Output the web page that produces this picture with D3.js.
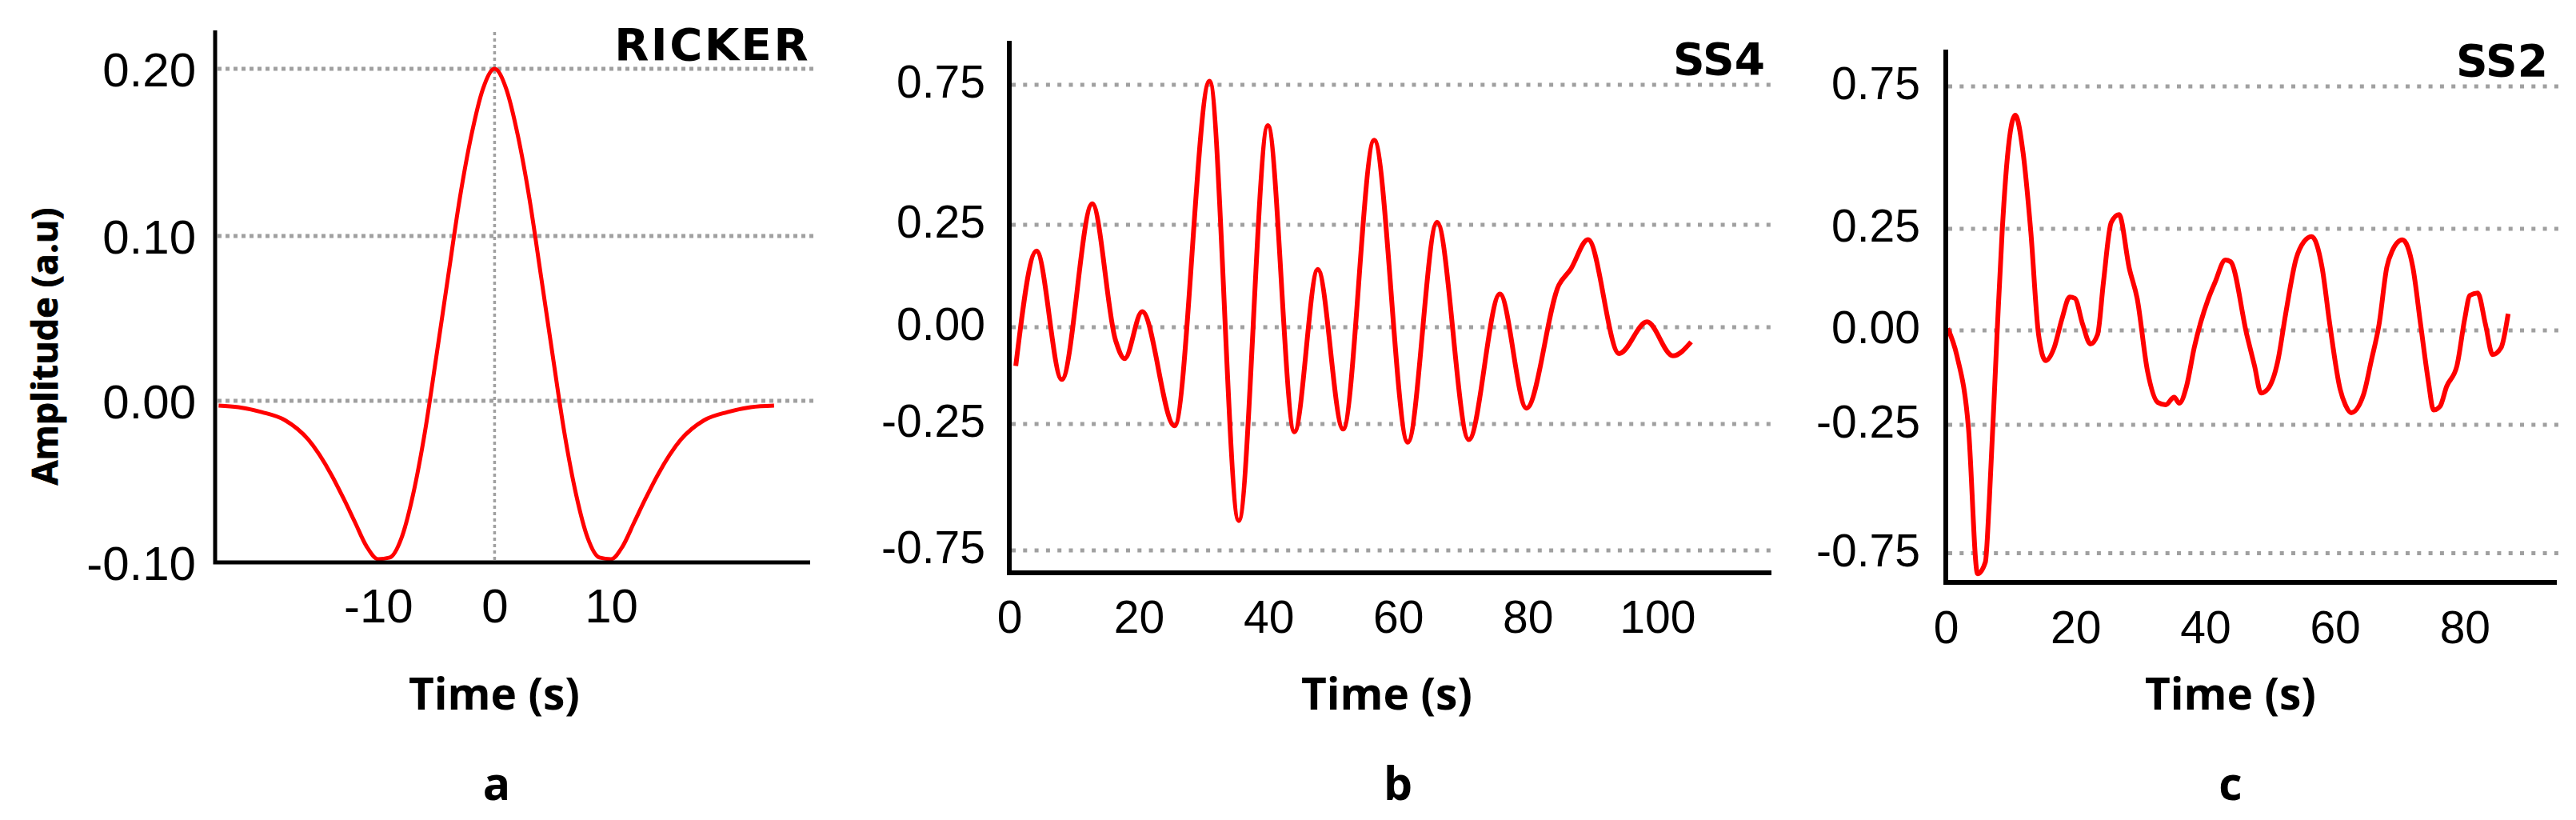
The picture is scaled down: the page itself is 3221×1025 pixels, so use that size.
<!DOCTYPE html>
<html>
<head>
<meta charset="utf-8">
<script src="https://cdn.jsdelivr.net/npm/d3@7"></script>
<style>
  body { margin: 0; background: #fff; }
  .tick text { font-family: "Liberation Sans", Arial, sans-serif; fill: #000; }
  .lbl { font-family: "Open Sans", sans-serif; font-weight: bold; fill: #000; }
  .ttl { font-family: "DejaVu Sans", sans-serif; font-weight: bold; fill: #000; }
</style>
</head>
<body>
<script>
// ---- data ----
// a: Ricker wavelet
var rickerTime = [-23.7, -22, -20, -18, -16, -14, -13, -12, -11, -10, -9, -8, -7, -6, -5, -4, -3, -2, -1, 0,
                  1, 2, 3, 4, 5, 6, 7, 8, 9, 10, 11, 12, 13, 14, 16, 18, 20, 22, 24];
var rickerAmp = [-0.003, -0.004, -0.007, -0.012, -0.024, -0.046, -0.060, -0.075, -0.090, -0.098, -0.097, -0.085, -0.058, -0.020, 0.027, 0.075, 0.122, 0.160, 0.188, 0.200,
                 0.188, 0.160, 0.122, 0.075, 0.027, -0.020, -0.058, -0.085, -0.097, -0.098, -0.090, -0.075, -0.060, -0.046, -0.024, -0.012, -0.007, -0.004, -0.003];

// b: SS4
var ss4Time = [1.0, 4.2, 8.1, 12.8, 16.4, 17.8, 20.5, 25.5, 30.9, 35.4, 39.9, 44.0, 47.6, 51.5, 56.3,
               61.5, 66.0, 70.9, 75.7, 79.8, 84.8, 86.6, 89.3, 94.1, 98.4, 102.4, 105.2];
var ss4Amp = [-0.10, 0.186, -0.135, 0.325, -0.034, -0.081, 0.038, -0.257, 0.763, -0.632, 0.604, -0.281, 0.141, -0.27, 0.552,
              -0.322, 0.259, -0.312, 0.081, -0.209, 0.103, 0.141, 0.214, -0.068, 0.013, -0.074, -0.038];

// c: SS2
var ss2Time = [0.3, 1.7, 3.5, 4.9, 6.1, 6.7, 7.9, 8.7, 9.5, 10.7, 11.9, 13.1, 14.3, 15.4, 16.7, 17.9, 19.1, 19.9,
               21.1, 22.3, 23.4, 24.3, 25.5, 26.7, 28.3, 29.5, 31.1, 32.7, 33.9, 35.2, 36.0, 37.1, 38.3, 40.5, 41.5,
               43.1, 43.9, 46.4, 47.6, 48.6, 49.6, 51.2, 52.4, 54.0, 55.2, 56.4, 58.0, 59.2, 60.8, 61.6, 62.5, 64.4,
               65.6, 66.8, 68.0, 68.8, 70.4, 72.0, 73.2, 74.4, 75.2, 76.2, 77.2, 78.8, 80.0, 80.8, 82.0, 83.2, 84.3,
               85.6, 86.7];
var ss2Amp = [0.005, -0.066, -0.264, -0.83, -0.785, -0.55, -0.011, 0.246, 0.502, 0.649, 0.52, 0.244, -0.011, -0.08, -0.046, 0.028, 0.082, 0.079,
              0.015, -0.036, -0.011, 0.118, 0.272, 0.30, 0.152, 0.079, -0.108, -0.191, -0.197, -0.177, -0.193, -0.149, -0.046, 0.079, 0.118,
              0.173, 0.169, -0.011, -0.094, -0.166, -0.156, -0.08, 0.041, 0.176, 0.218, 0.231, 0.156, 0.015, -0.156, -0.197, -0.218, -0.17,
              -0.08, 0.015, 0.156, 0.195, 0.223, 0.156, 0.015, -0.135, -0.211, -0.201, -0.149, -0.094, 0.028, 0.086, 0.092, 0.015, -0.064,
              -0.046, 0.041];

// tick labels
var rickerXTicks = [-10, 0, 10];
var rickerYTicks = [-0.10, 0.00, 0.10, 0.20];
var rickerGrid = [0.00, 0.10, 0.20];
var ssXTicks4 = [0, 20, 40, 60, 80, 100];
var ssXTicks2 = [0, 20, 40, 60, 80];
var ssYTicks = [-0.75, -0.25, 0.00, 0.25, 0.75];
var panelTitles = ["RICKER", "SS4", "SS2"];
var panelLetters = ["a", "b", "c"];

// ---- layout ----
var width = 3221, height = 1025;
var svg = d3.select('body').append('svg')
  .attr('width', width)
  .attr('height', height);
svg.append('rect').attr('width', width).attr('height', height).attr('fill', '#fff');

// plain hyphen for negatives, like the original figure
var fmt2 = d => d3.format('.2f')(d).replace('\u2212', '-');
var fmt0 = d => d3.format('d')(d).replace('\u2212', '-');

var panels = [
  {time: rickerTime, amp: rickerAmp, xTicks: rickerXTicks, yTicks: rickerYTicks, grid: rickerGrid,
   xDomain: [-24, 27.1], xRange: [269, 1013], yRange: [703, 501, 295, 86], top: 38, axisY: 703,
   yPad: 24, xPad: 32, axisW: 5, lineW: 5, dash: '5 5', titleY: 75, titleX: 1013, titleSize: 56, spacing: 2.5,
   tickSize: 60, midX: 618, letterX: 621},
  {time: ss4Time, amp: ss4Amp, xTicks: ssXTicks4, yTicks: ssYTicks, grid: ssYTicks,
   xDomain: [0, 117.6], xRange: [1262, 2215], yRange: [688, 530, 409, 281, 106], top: 51, axisY: 716,
   yPad: 30, xPad: 35, axisW: 6, lineW: 6, dash: '5 9.3', titleY: 93, titleX: 2207, titleSize: 55, spacing: 0,
   tickSize: 57, midX: 1734, letterX: 1748},
  {time: ss2Time, amp: ss2Amp, xTicks: ssXTicks2, yTicks: ssYTicks, grid: ssYTicks,
   xDomain: [0, 94.2], xRange: [2433, 3197], yRange: [691.5, 531, 413, 286, 108], top: 62, axisY: 728,
   yPad: 32, xPad: 36, axisW: 6, lineW: 6, dash: '5 9.3', titleY: 95, titleX: 3186, titleSize: 55, spacing: 0,
   tickSize: 57, midX: 2789, letterX: 2789}
];

panels.forEach(function(p, i) {
  var g = svg.append('g');
  var x = d3.scaleLinear().domain(p.xDomain).range(p.xRange);
  var y = d3.scaleLinear().domain(p.yTicks).range(p.yRange);
  var x0 = p.xRange[0], x1 = p.xRange[1];

  // dotted gridlines
  g.selectAll('.grid').data(p.grid).enter().append('line')
    .attr('x1', x0 + 3).attr('x2', x1 + 4)
    .attr('y1', d => y(d)).attr('y2', d => y(d))
    .attr('stroke', '#a0a0a0').attr('stroke-width', 5)
    .attr('stroke-dasharray', p.dash);

  if (i === 0) {
    g.append('line')
      .attr('x1', x(0)).attr('x2', x(0))
      .attr('y1', 40).attr('y2', p.axisY)
      .attr('stroke', '#a0a0a0').attr('stroke-width', 3.5)
      .attr('stroke-dasharray', '4 4');
  }

  // the signal
  var line = d3.line()
    .x((d, k) => x(p.time[k]))
    .y(d => y(d))
    .curve(d3.curveMonotoneX);
  g.append('path')
    .attr('d', line(p.amp))
    .attr('fill', 'none')
    .attr('stroke', '#ff0000')
    .attr('stroke-width', p.lineW)
    .attr('stroke-linejoin', 'round');

  // axes: tick labels from d3, black frame lines drawn by hand
  var yAxis = g.append('g')
    .attr('transform', 'translate(' + x0 + ',0)')
    .call(d3.axisLeft(y).tickValues(p.yTicks).tickSize(0).tickPadding(p.yPad).tickFormat(fmt2));
  yAxis.select('.domain').remove();
  yAxis.selectAll('text').style('font-size', p.tickSize + 'px').attr('dy', i === 0 ? '0.35em' : '0.28em');

  var xAxis = g.append('g')
    .attr('transform', 'translate(0,' + p.axisY + ')')
    .call(d3.axisBottom(x).tickValues(p.xTicks).tickSize(0).tickPadding(p.xPad).tickFormat(fmt0));
  xAxis.select('.domain').remove();
  xAxis.selectAll('text').style('font-size', p.tickSize + 'px');

  g.append('path')
    .attr('d', 'M' + x0 + ',' + p.top + 'V' + p.axisY + 'H' + x1)
    .attr('fill', 'none')
    .attr('stroke', '#000')
    .attr('stroke-width', p.axisW);

  // titles and labels
  g.append('text').attr('class', 'ttl')
    .attr('x', p.titleX).attr('y', p.titleY)
    .attr('text-anchor', 'end')
    .style('font-size', p.titleSize + 'px')
    .style('letter-spacing', p.spacing + 'px')
    .text(panelTitles[i]);

  g.append('text').attr('class', 'lbl')
    .attr('x', p.midX).attr('y', 887)
    .attr('text-anchor', 'middle')
    .style('font-size', '55px')
    .text('Time (s)');

  g.append('text').attr('class', 'lbl')
    .attr('x', p.letterX).attr('y', 1000)
    .attr('text-anchor', 'middle')
    .style('font-size', '57px')
    .text(panelLetters[i]);
});

// y axis title of panel a
svg.append('text').attr('class', 'lbl')
  .attr('transform', 'translate(72,433) rotate(-90)')
  .attr('text-anchor', 'middle')
  .style('font-size', '45px')
  .style('stroke', '#000')
  .style('stroke-width', 0.8)
  .text('Amplitude (a.u)');
</script>
</body>
</html>
